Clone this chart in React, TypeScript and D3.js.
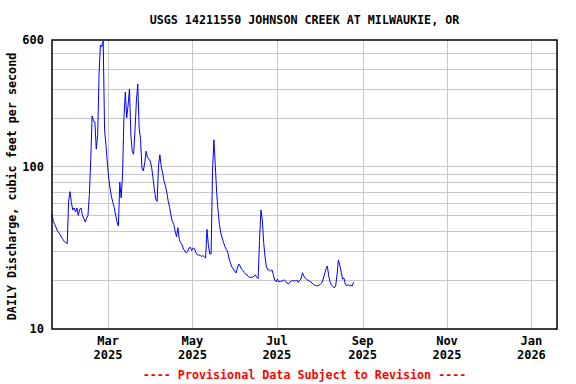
import React from "react";
import * as d3 from "d3";

const TITLE = "USGS 14211550 JOHNSON CREEK AT MILWAUKIE, OR";
const Y_LABEL = "DAILY Discharge, cubic feet per second";
const FOOTER = "---- Provisional Data Subject to Revision ----";

// daily mean discharge, starting 2025-01-19
const seriesStart = "2025-01-19";
const dischargeValues = [
  51, 46, 44, 42, 40, 39, 38, 36.5, 35.5, 34.5, 34, 33.5, 61, 70, 60, 54, 55.5, 52.5, 55.5, 50,
  54.5, 55.5, 50, 48, 45.5, 48, 50, 67, 110, 205, 190, 188, 128, 156, 366, 560, 546, 591, 168, 136,
  105, 85, 73, 65, 60, 56, 50, 45.5, 43, 80, 64, 89, 199, 287, 199, 239, 300, 156, 124, 119,
  168, 253, 322, 172, 146, 98, 94, 105, 124, 114, 111, 108, 99, 85, 72, 63, 61, 102, 118, 99,
  91, 81, 76, 69, 61, 56, 50, 46, 44, 40, 37, 42, 35.6, 34, 33, 31, 30.2, 29.4, 30, 31.5,
  31.8, 30.4, 31.5, 31.2, 29.5, 28.6, 28.5, 28.5, 27.9, 28.3, 27.9, 27.3, 41, 33, 29, 29, 92, 146, 103, 69,
  54, 44, 39, 36.3, 34, 32.2, 30.8, 29.8, 27, 25.4, 24.1, 23.4, 22.7, 22.1, 23.7, 25.1, 24.4, 23.3, 22.9, 22.3,
  21.8, 21.5, 21, 20.8, 20.8, 20.8, 21.2, 21.5, 20.8, 20.4, 35, 54, 47, 34, 27.7, 24.1, 23.1, 23.1, 22.7, 23.1,
  21.5, 20, 19.5, 20.3, 19.5, 19.6, 19.7, 19.9, 20, 19.7, 19.1, 18.9, 19.5, 19.8, 19.8, 19.8, 19.8, 20, 19.3, 20,
  20.3, 22.2, 21.2, 20.6, 20.2, 20, 19.7, 19.5, 19.2, 18.8, 18.6, 18.5, 18.4, 18.6, 18.9, 19.2, 20.3, 21.8, 23.4, 24.4,
  21.2, 19.5, 18.6, 18.3, 17.9, 18.4, 21.5, 26.6, 24.7, 22.4, 20.3, 20.6, 18.9, 18.4, 18.8, 18.4, 18.6, 18.4, 19.4,
];

const xDomain = ["2025-01-19", "2026-01-19"];
const xTickDates = ["2025-03-01", "2025-05-01", "2025-07-01", "2025-09-01", "2025-11-01", "2026-01-01"];
const xTickMonths = ["Mar", "May", "Jul", "Sep", "Nov", "Jan"];
const xTickYears = ["2025", "2025", "2025", "2025", "2025", "2026"];

const yDomain = [10, 600];
const yLabelTicks = [10, 100, 600];
const yGridTicks = [20, 30, 40, 50, 60, 70, 80, 90, 100, 200, 300, 400, 500];

const W = 576;
const H = 384;
const M = { left: 52, right: 557, top: 40, bottom: 329 };

const parseNoon = (s: string) => {
  const [y, m, d] = s.split("-").map(Number);
  return new Date(y, m - 1, d, 12);
};
const parseDay = (s: string) => {
  const [y, m, d] = s.split("-").map(Number);
  return new Date(y, m - 1, d);
};

export default function App() {
  const x = d3
    .scaleTime()
    .domain([parseNoon(xDomain[0]), parseNoon(xDomain[1])])
    .range([M.left, M.right]);
  const y = d3.scaleLog().domain(yDomain).range([M.bottom, M.top]);

  const start = parseNoon(seriesStart);
  const data = dischargeValues.map((v, i) => ({ date: d3.timeDay.offset(start, i), v }));
  const line = d3
    .line<{ date: Date; v: number }>()
    .x((d) => x(d.date))
    .y((d) => y(d.v));

  const font = "'DejaVu Sans Mono', monospace";

  return (
    <svg
      width={W}
      height={H}
      style={{ position: "absolute", left: 0, top: 0, background: "#fff" }}
      fontFamily={font}
      fontWeight="bold"
      fontSize={12}
    >
      <rect x={0} y={0} width={W} height={H} fill="#fff" />
      {yGridTicks.map((t) => (
        <line
          key={"hg" + t}
          x1={M.left}
          x2={M.right}
          y1={Math.round(y(t)) + 0.5}
          y2={Math.round(y(t)) + 0.5}
          stroke="#c8c8c8"
          strokeWidth={1}
        />
      ))}
      {xTickDates.map((s) => {
        const xx = Math.round(x(parseDay(s))) + 0.5;
        return (
          <line key={"vg" + s} x1={xx} x2={xx} y1={M.top} y2={M.bottom} stroke="#c8c8c8" strokeWidth={1} />
        );
      })}
      <path d={line(data) || ""} fill="none" stroke="#0000ff" strokeWidth={1} />
      <rect
        x={M.left}
        y={M.top}
        width={M.right - M.left}
        height={M.bottom - M.top}
        fill="none"
        stroke="#000"
        strokeWidth={1.5}
      />
      {yLabelTicks.map((t) => (
        <text key={"yl" + t} x={44} y={y(t)} dy="0.35em" textAnchor="end" fill="#000">
          {t}
        </text>
      ))}
      {xTickDates.map((s, i) => {
        const xx = x(parseDay(s));
        return (
          <g key={"xl" + s}>
            <text x={xx} y={345} textAnchor="middle" fill="#000">
              {xTickMonths[i]}
            </text>
            <text x={xx} y={359} textAnchor="middle" fill="#000">
              {xTickYears[i]}
            </text>
          </g>
        );
      })}
      <text x={(M.left + M.right) / 2} y={24} textAnchor="middle" fill="#000" fontSize={11.7}>
        {TITLE}
      </text>
      <text
        transform={`translate(16,${(M.top + M.bottom) / 2 + 2}) rotate(-90)`}
        textAnchor="middle"
        fill="#000"
        fontSize={11.7}
      >
        {Y_LABEL}
      </text>
      <text x={(M.left + M.right) / 2} y={379} textAnchor="middle" fill="#ff0000" fontSize={11.7}>
        {FOOTER}
      </text>
    </svg>
  );
}
